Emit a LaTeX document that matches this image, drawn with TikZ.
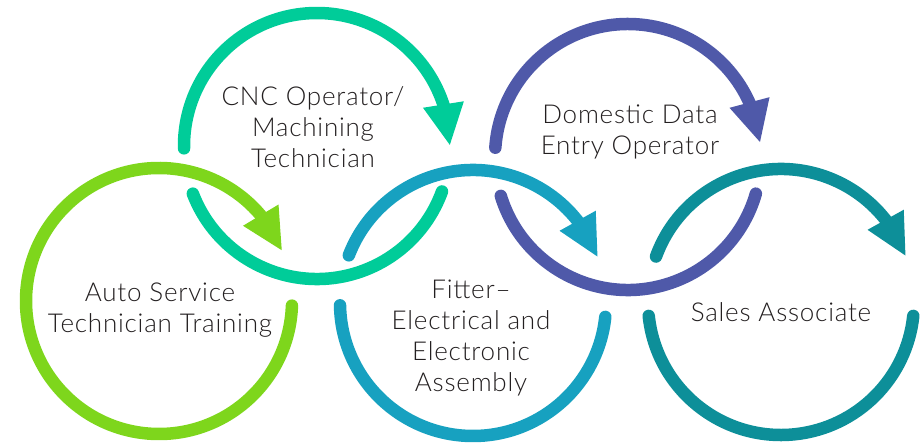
\documentclass[tikz,border=0pt]{standalone}
\usepackage{fontspec}
\setmainfont{Lato}[UprightFont={* Light},LetterSpace=3]
\usetikzlibrary{arrows.meta,bending}
\definecolor{cgreen}{HTML}{7ED61C}
\definecolor{cmint}{HTML}{00CC99}
\definecolor{cblue}{HTML}{17A1C0}
\definecolor{cindigo}{HTML}{4F59A9}
\definecolor{cteal}{HTML}{0D8F99}
\definecolor{ctext}{HTML}{231F20}
\begin{document}
\begin{tikzpicture}[x=1pt,y=1pt,
  ring/.style={line width=12.5pt, line cap=round},
  tipped/.style={ring, -{Triangle[length=42pt,width=38pt,flex]}},
  lbl/.style={align=center, anchor=base, text=ctext, font=\fontsize{26}{31.3}\selectfont, inner sep=0pt}]
\useasboundingbox (0,0) rectangle (924,444);
\coordinate (c1) at (159,143);
\coordinate (c2) at (317,298);
\coordinate (c3) at (473,141);
\coordinate (c4) at (628,287);
\coordinate (c5) at (781,142);
% circle 1
\draw[tipped, cgreen] (c1) ++(-2:133) arc[start angle=-2, end angle=-338, radius=133];
% circle 2
\draw[tipped, cmint] (c2) ++(181:133) arc[start angle=181, end angle=0, radius=133];
\draw[ring, cmint] (c2) ++(201:133) arc[start angle=201, end angle=340, radius=133];
% circle 3
\draw[tipped, cblue] (c3) ++(159:133) arc[start angle=159, end angle=20, radius=133];
\draw[ring, cblue] (c3) ++(181:133) arc[start angle=181, end angle=354, radius=133];
% circle 4
\draw[tipped, cindigo] (c4) ++(176:133) arc[start angle=176, end angle=6, radius=133];
\draw[ring, cindigo] (c4) ++(197:133) arc[start angle=197, end angle=344, radius=133];
% circle 5
\draw[tipped, cteal] (c5) ++(160:133) arc[start angle=160, end angle=20, radius=133];
\draw[ring, cteal] (c5) ++(186:133) arc[start angle=186, end angle=354, radius=133];
% labels (anchor base = baseline of the last line)
\node[lbl] (auto) at (160,111) {Auto Service\\Technician Training};
\node[lbl] (cnc) at (313,276) {CNC Operator/\\Machining\\Technician};
\node[lbl] (fitter) at (471,52) {Fitter–\\Electrical and\\Electronic\\Assembly};
\node[lbl] (dom) at (630,289) {Domestic Data\\Entry Operator};
\node[lbl] (sales) at (781,122) {Sales Associate};
\end{tikzpicture}
\end{document}
